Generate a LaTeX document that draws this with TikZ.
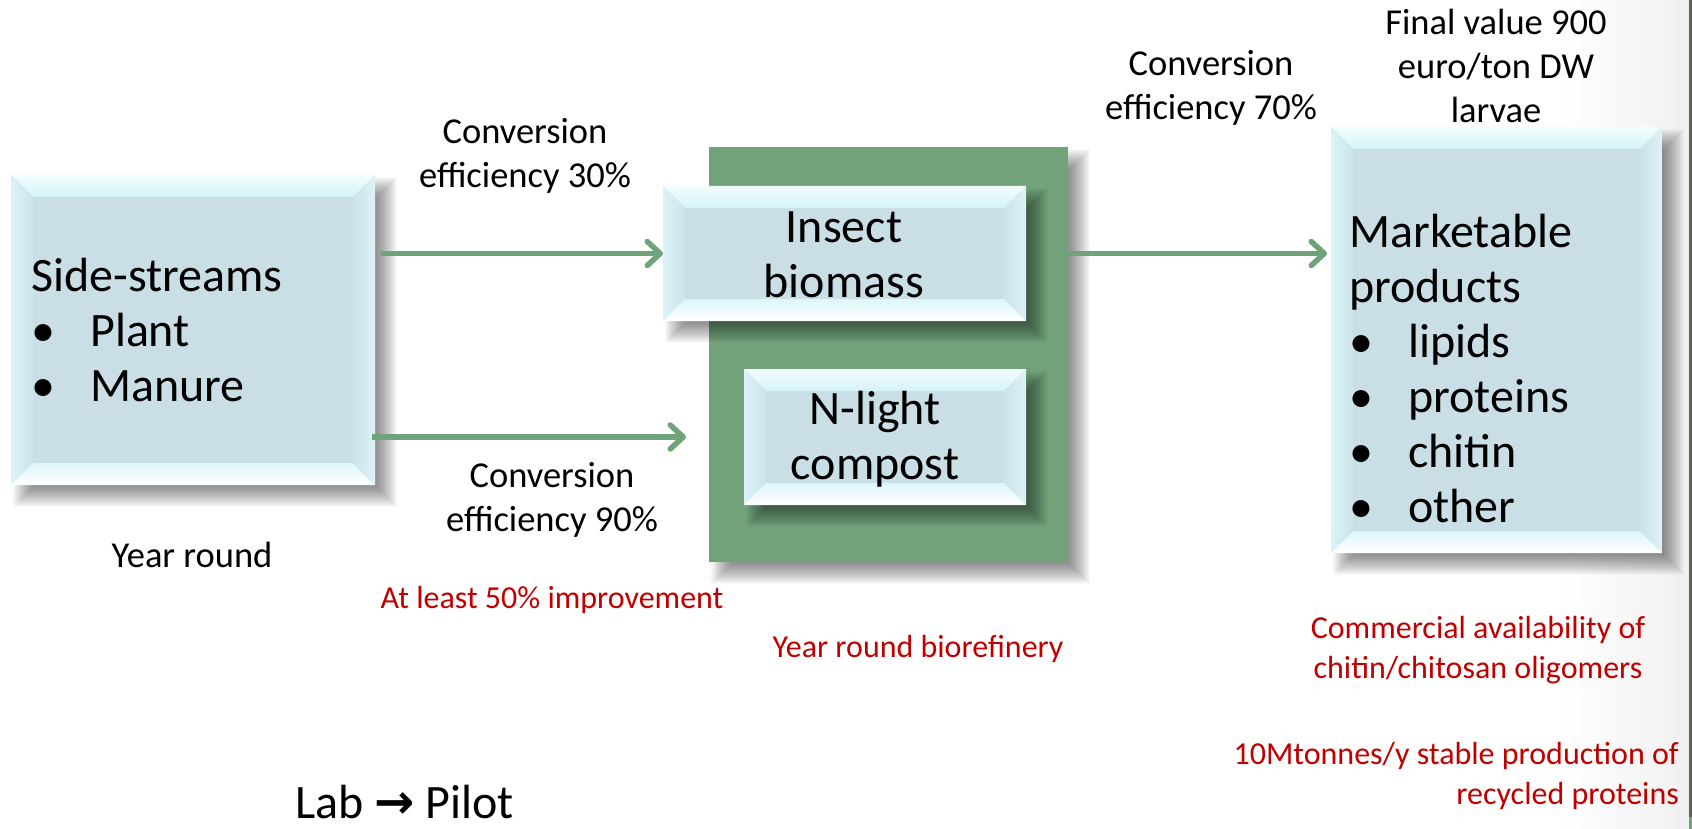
\documentclass[tikz,border=0pt]{standalone}
\usepackage{fontspec}
\setmainfont{Carlito}
\newfontfamily\symfont{DejaVu Sans}
\usetikzlibrary{arrows.meta,calc}

\definecolor{face}{HTML}{C9DEE5}
\definecolor{bevtopA}{HTML}{F4FDFE}
\definecolor{bevtopB}{HTML}{D3F3F8}
\definecolor{bevleftA}{HTML}{D9F3F8}
\definecolor{bevleftB}{HTML}{CCE3EA}
\definecolor{bevbotA}{HTML}{DDF6FA}
\definecolor{bevbotB}{HTML}{FFFFFF}
\definecolor{bevrightA}{HTML}{CCE2E9}
\definecolor{bevrightB}{HTML}{DDF3F8}
\definecolor{flowgreen}{HTML}{6FA37A}
\definecolor{panelgreen}{HTML}{72A27A}
\definecolor{noteRed}{HTML}{C00000}
\definecolor{edgeDark}{HTML}{5E6450}

\newcommand\bitem{\makebox[59pt][l]{\textbullet}}

% soft drop shadow below and right of a node, built from stacked translucent layers
\newcommand\dropshadow[1]{%
  \foreach \k [evaluate=\k as \lo using 12-\k, evaluate=\k as \hi using 12+\k] in {-10,...,10} {
    \fill[black, opacity=0.024]
      ($(#1.north west)+(\lo pt,-\lo pt)$) rectangle ($(#1.south east)+(\hi pt,-\hi pt)$);
  }}

% box face and four shaded bevel strips
\newcommand\bevelon[1]{%
  \fill[face] (#1.north west) rectangle (#1.south east);
  \shade[top color=bevtopA, bottom color=bevtopB]
    (#1.north west) -- (#1.north east) -- ($(#1.north east)+(-22pt,-22pt)$)
    -- ($(#1.north west)+(22pt,-22pt)$) -- cycle;
  \shade[left color=bevleftA, right color=bevleftB]
    (#1.north west) -- ($(#1.north west)+(22pt,-22pt)$)
    -- ($(#1.south west)+(22pt,22pt)$) -- (#1.south west) -- cycle;
  \shade[top color=bevbotA, bottom color=bevbotB]
    (#1.south west) -- ($(#1.south west)+(22pt,22pt)$)
    -- ($(#1.south east)+(-22pt,22pt)$) -- (#1.south east) -- cycle;
  \shade[left color=bevrightA, right color=bevrightB]
    (#1.north east) -- (#1.south east) -- ($(#1.south east)+(-22pt,22pt)$)
    -- ($(#1.north east)+(-22pt,-22pt)$) -- cycle;
}

\tikzset{
  x=1pt, y=-1pt,
  boxarea/.style={rectangle, inner sep=0pt, outer sep=0pt},
  flow/.style={draw=flowgreen, line width=5.5pt,
    -{Straight Barb[round, length=13pt, width=24pt]}},
  bigtext/.style={font=\fontsize{48}{55}\selectfont, align=left, inner sep=0pt},
  midtext/.style={font=\fontsize{48}{55}\selectfont, align=center, inner sep=0pt},
  lbl/.style={font=\fontsize{36.5}{44}\selectfont, align=center, inner sep=0pt},
  note/.style={font=\fontsize{32}{40}\selectfont, text=noteRed, align=center, inner sep=0pt},
}

\begin{document}
\begin{tikzpicture}
  % page and right-hand edge
  \useasboundingbox (0,0) rectangle (1692,829);
  \fill[white] (0,0) rectangle (1692,829);
  \shade[left color=white, right color=black!6] (1560,0) rectangle (1689,829);
  \fill[edgeDark] (1689,0) rectangle (1692,817);
  \fill[panelgreen] (1689,817) rectangle (1692,829);

  % biorefinery panel
  \node[boxarea, minimum width=359pt, minimum height=415pt] (bio) at (888.5,354.5) {};
  \dropshadow{bio}
  \fill[panelgreen] (bio.north west) rectangle (bio.south east);

  % bevelled boxes
  \node[boxarea, minimum width=364pt, minimum height=310pt] (ss) at (193,330) {};
  \node[boxarea, minimum width=363pt, minimum height=135pt] (ib) at (844.5,253.5) {};
  \node[boxarea, minimum width=282pt, minimum height=136pt] (nl) at (885,437) {};
  \node[boxarea, minimum width=331pt, minimum height=426pt] (mp) at (1496.5,340) {};
  \dropshadow{ss} \bevelon{ss}
  \dropshadow{ib} \bevelon{ib}
  \dropshadow{nl} \bevelon{nl}
  \dropshadow{mp} \bevelon{mp}

  % box texts
  \node[bigtext, anchor=west] (sstext) at (31,330)
    {Side-streams\\ \bitem Plant\\ \bitem Manure};
  \node[midtext] (ibtext) at (844,255) {Insect\\ biomass};
  \node[midtext] (nltext) at (875,439) {N-light\\ compost};
  \node[bigtext, anchor=west] (mptext) at (1349,369)
    {Marketable\\ products\\ \bitem lipids\\ \bitem proteins\\ \bitem chitin\\ \bitem other};

  % flows
  \coordinate (compostin) at (686,437);
  \draw[flow] ($(ss.east |- ib.west)+(6pt,0)$) -- (ib.west);
  \draw[flow] ($(ss.east |- nl.west)+(-3pt,0)$) -- (compostin);
  \draw[flow] ($(ib.east)+(29pt,0)$) -- ($(mp.west |- ib.east)+(-4pt,0)$);

  % black labels
  \node[lbl] (conv30) at (525,156) {Conversion\\ efficiency 30\%};
  \node[lbl] (conv90) at (552,500) {Conversion\\ efficiency 90\%};
  \node[lbl] (conv70) at (1211,88) {Conversion\\ efficiency 70\%};
  \node[lbl] (final) at (1496,66) {Final value 900\\ euro/ton DW\\ larvae};
  \node[lbl] (yearround) at (192,555) {Year round};

  % red notes
  \node[note] (improve) at (552,600) {At least 50\% improvement};
  \node[note] (biorefinery) at (918,649) {Year round biorefinery};
  \node[note] (chitosan) at (1478,650) {Commercial availability of\\ chitin/chitosan oligomers};
  \node[note, align=right, anchor=east] (recycled) at (1679,776)
    {10Mtonnes/y stable production of\\ recycled proteins};

  % scale-up note
  \node[bigtext, anchor=base west] (labpilot) at (295,818)
    {Lab {\symfont\bfseries →} Pilot};
\end{tikzpicture}
\end{document}
